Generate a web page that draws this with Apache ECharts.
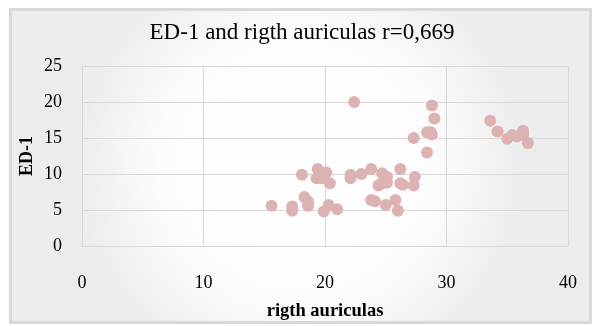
<!DOCTYPE html>
<html><head><meta charset="utf-8">
<script src="https://cdn.jsdelivr.net/npm/echarts@6/dist/echarts.min.js"></script>
<style>html,body{margin:0;padding:0;background:#fff}#c{width:604px;height:326px}</style>
</head><body><div id="c"></div>
<script>
var titleText = "ED-1 and rigth auriculas r=0,669";
var xName = "rigth auriculas";
var yName = "ED-1";
var xTicks = [0, 10, 20, 30, 40];
var yTicks = [0, 5, 10, 15, 20, 25];
var auriculas = [15.6,17.3,17.3,18.1,18.3,18.6,18.6,19.4,19.3,19.7,20.1,20.4,19.9,20.3,21.0,22.4,22.1,22.1,23.0,23.8,24.7,25.1,25.1,24.4,24.6,23.8,24.1,25.0,25.8,26.0,26.2,26.4,26.2,27.3,27.4,27.3,28.4,28.4,28.8,28.7,28.8,29.0,33.6,34.2,35.0,35.4,35.8,36.3,36.3,36.7];
var ed1 = [5.6,5.5,4.9,9.9,6.8,6.2,5.6,10.7,9.4,9.4,10.2,8.7,4.8,5.7,5.1,20.0,9.9,9.4,10.0,10.7,10.1,9.6,8.8,8.4,8.6,6.4,6.2,5.7,6.4,4.9,10.7,8.5,8.7,8.4,9.6,15.0,13.0,15.8,15.5,15.8,19.5,17.7,17.4,15.9,14.9,15.4,15.2,16.0,15.5,14.3];

var pts = auriculas.map(function(v,i){return [v, ed1[i]];});
var font = "'Liberation Serif','Times New Roman',serif";
var chart = echarts.init(document.getElementById('c'), null, {renderer:'canvas'});
chart.setOption({
  animation:false,
  graphic:[{
    type:'rect', z:-10, silent:true,
    shape:{x:10.5,y:9.5,width:580,height:313},
    style:{
      fill:new echarts.graphic.RadialGradient(0.5,0.5,0.72,[{offset:0,color:'#ffffff'},{offset:0.6,color:'#fcfcfc'},{offset:1,color:'#ececec'}]),
      stroke:'#d9d9d9', lineWidth:3
    }
  }],
  title:{text:titleText,left:'center',top:16,
    textStyle:{fontFamily:font,fontSize:23,fontWeight:'normal',color:'#000'}},
  grid:{left:82,right:36,top:66,bottom:79,show:false},
  xAxis:{type:'value',min:0,max:40,interval:10,
    name:xName,nameLocation:'middle',nameGap:56,nameMoveOverlap:false,
    nameTextStyle:{fontFamily:font,fontSize:18.5,fontWeight:'bold',color:'#000'},
    axisLine:{show:true,onZero:false,lineStyle:{color:'#d9d9d9'}},axisTick:{show:false},
    axisLabel:{margin:28,fontFamily:font,fontSize:18,color:'#000',showMinLabel:true,showMaxLabel:true},
    splitLine:{show:true,lineStyle:{color:'#d9d9d9',width:1}}},
  yAxis:{type:'value',min:0,max:25,interval:5,
    name:yName,nameLocation:'middle',nameGap:46,nameMoveOverlap:false,
    nameTextStyle:{fontFamily:font,fontSize:18,fontWeight:'bold',color:'#000'},
    axisLine:{show:true,lineStyle:{color:'#d9d9d9'}},axisTick:{show:false},
    axisLabel:{margin:20,fontFamily:font,fontSize:18,color:'#000'},
    splitLine:{show:true,lineStyle:{color:'#d9d9d9',width:1}}},
  series:[{type:'scatter',data:pts,symbolSize:12,
    itemStyle:{color:'#dcb2b2',opacity:1}}]
});
</script>
</body></html>
